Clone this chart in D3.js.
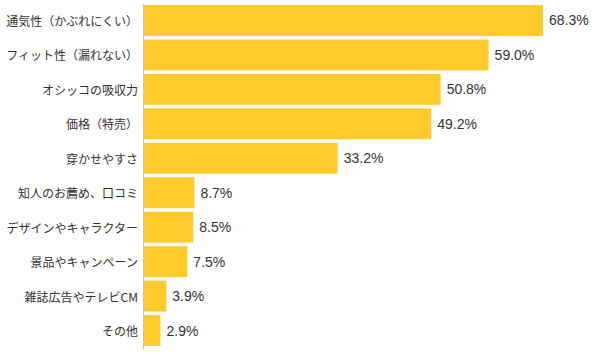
<!DOCTYPE html>
<html><head><meta charset="utf-8">
<script src="https://cdn.jsdelivr.net/npm/d3@7"></script>
<style>
html,body{margin:0;padding:0;background:#fff;}
svg{display:block;}
</style></head>
<body>
<svg id="chart" width="601" height="356"></svg>
<script>
const categories = ["通気性（かぶれにくい）","フィット性（漏れない）","オシッコの吸収力","価格（特売）","穿かせやすさ","知人のお薦め、口コミ","デザインやキャラクター","景品やキャンペーン","雑誌広告やテレビCM","その他"];
const values = [68.3, 59.0, 50.8, 49.2, 33.2, 8.7, 8.5, 7.5, 3.9, 2.9];
const valueLabels = ["68.3%","59.0%","50.8%","49.2%","33.2%","8.7%","8.5%","7.5%","3.9%","2.9%"];

const svg = d3.select("#chart");
const x0 = 143.5;
const x = d3.scaleLinear().domain([0, 68.3]).range([x0, 543]);
const y = d3.scaleBand().domain(categories).range([3.3, 347.7]).paddingInner(0.103).paddingOuter(0.05);

svg.append("g").selectAll("rect").data(values).join("rect")
  .attr("x", x(0))
  .attr("y", (d,i) => y(categories[i]))
  .attr("width", d => x(d) - x(0))
  .attr("height", y.bandwidth())
  .attr("fill", "#FFCA2C");

svg.append("line")
  .attr("x1", x0).attr("x2", x0)
  .attr("y1", 4).attr("y2", 349)
  .attr("stroke", "#c4c4c4").attr("stroke-width", 1);

svg.append("g").selectAll("text").data(categories).join("text")
  .attr("x", 138)
  .attr("y", d => y(d) + y.bandwidth()/2)
  .attr("text-anchor", "end")
  .attr("dominant-baseline", "central")
  .attr("font-family", "'Noto Sans CJK JP', sans-serif")
  .attr("font-size", 12)
  .attr("fill", "#333")
  .text(d => d);

svg.append("g").selectAll("text").data(values).join("text")
  .attr("x", d => x(d) + 6)
  .attr("y", (d,i) => y(categories[i]) + y.bandwidth()/2)
  .attr("dominant-baseline", "central")
  .attr("font-family", "'Liberation Sans', Arial, sans-serif")
  .attr("font-size", 14)
  .attr("fill", "#333")
  .text((d,i) => valueLabels[i]);
</script>
</body></html>
